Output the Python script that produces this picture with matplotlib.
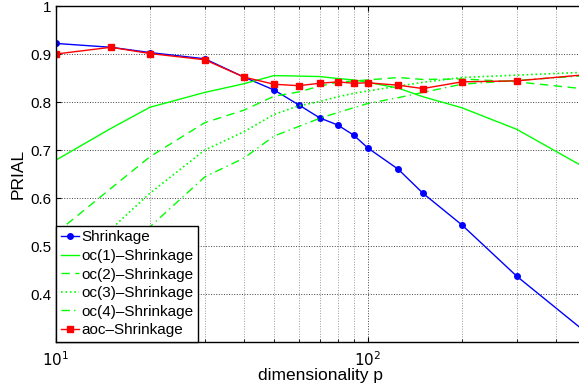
import numpy as np
import matplotlib
matplotlib.use("Agg")
import matplotlib.pyplot as plt
from matplotlib.ticker import FixedLocator, NullFormatter

matplotlib.rcParams['font.family'] = ['Liberation Sans', 'DejaVu Sans']
matplotlib.rc('font', size=11)

p = [10, 15, 20, 30, 40, 50, 60, 70, 80, 90, 100, 125, 150, 200, 300, 500]

shrinkage = [0.922, 0.914, 0.903, 0.890, 0.852, 0.825, 0.794, 0.767, 0.752, 0.731,
             0.704, 0.660, 0.610, 0.544, 0.437, 0.320]
oc1 = [0.679, 0.745, 0.789, 0.820, 0.838, 0.855, 0.854, 0.853, 0.849, 0.846,
       0.841, 0.829, 0.811, 0.788, 0.743, 0.662]
oc2 = [0.527, 0.620, 0.686, 0.757, 0.783, 0.812, 0.821, 0.833, 0.841, 0.844,
       0.846, 0.851, 0.847, 0.848, 0.842, 0.827]
oc3 = [0.410, 0.535, 0.610, 0.700, 0.738, 0.774, 0.792, 0.801, 0.811, 0.818,
       0.823, 0.833, 0.841, 0.851, 0.856, 0.862]
oc4 = [0.350, 0.465, 0.540, 0.644, 0.683, 0.729, 0.749, 0.766, 0.778, 0.788,
       0.797, 0.809, 0.820, 0.837, 0.845, 0.855]
aoc = [0.900, 0.914, 0.901, 0.888, 0.852, 0.837, 0.834, 0.839, 0.842, 0.839,
       0.840, 0.835, 0.828, 0.842, 0.844, 0.857]

fig = plt.figure(figsize=(5.79, 3.85), dpi=100)
ax = fig.add_axes([56 / 579, 1 - 342 / 385, 530 / 579, 336 / 385])

green = (0, 1, 0)
ax.plot(p, shrinkage, '-o', color='b', lw=1, ms=4, label='Shrinkage')
ax.plot(p, oc1, '-', color=green, lw=1, label='oc(1)–Shrinkage')
ax.plot(p, oc2, '--', color=green, lw=1, dashes=(6, 4), label='oc(2)–Shrinkage')
ax.plot(p, oc3, ':', color=green, lw=1.2, label='oc(3)–Shrinkage')
ax.plot(p, oc4, '-.', color=green, lw=1, dashes=(6, 3, 1, 3), label='oc(4)–Shrinkage')
ax.plot(p, aoc, '-s', color='r', lw=1, ms=4, label='aoc–Shrinkage')

ax.set_xscale('log')
ax.set_xlim([10, 500])
ax.set_ylim([0.3, 1.0])
ax.set_xticks([10, 100])
ax.set_xticklabels(['$10^1$', '$10^2$'])
ax.xaxis.set_minor_locator(FixedLocator([20, 30, 40, 50, 60, 70, 80, 90, 200, 300, 400]))
ax.xaxis.set_minor_formatter(NullFormatter())
ax.set_yticks([0.4, 0.5, 0.6, 0.7, 0.8, 0.9, 1.0])
ax.set_yticklabels(['0.4', '0.5', '0.6', '0.7', '0.8', '0.9', '1'])
ax.tick_params(which='both', direction='in', top=True, right=True)
ax.tick_params(axis='x', which='major', pad=6)
ax.set_xlabel('dimensionality p', labelpad=-1, fontsize=12.5)
ax.set_ylabel('PRIAL', labelpad=3, fontsize=12.5)
ax.grid(True, which='major', linestyle=':', color='0.25', lw=0.7)
ax.grid(True, which='minor', axis='x', linestyle=':', color='0.6', lw=0.7)
ax.set_axisbelow(True)
for s in ax.spines.values():
    s.set_linewidth(1.0)

leg = ax.legend(loc='lower left', bbox_to_anchor=(0, 0), borderaxespad=0,
                fancybox=False, handlelength=1.2, handletextpad=0.15,
                labelspacing=0.3, borderpad=0.3, fontsize=11)
leg.get_frame().set_edgecolor('k')
leg.get_frame().set_linewidth(1.0)
leg.get_frame().set_alpha(1)

fig.savefig('out.png', dpi=100)
